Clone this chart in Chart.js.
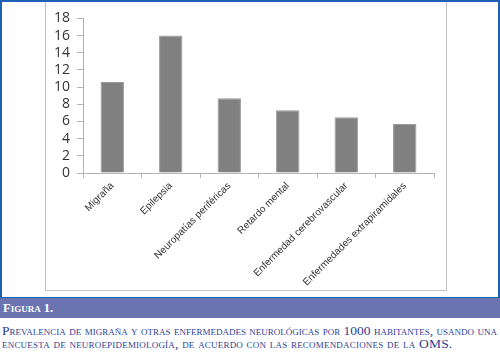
<!DOCTYPE html>
<html>
<head>
<meta charset="utf-8">
<script src="https://cdn.jsdelivr.net/npm/chart.js@4.4.1/dist/chart.umd.min.js"></script>
<style>
  html, body { margin: 0; padding: 0; background: #fff; }
  body { width: 500px; height: 354px; position: relative; overflow: hidden; }
  #frame { position: absolute; left: 0; top: 0; width: 496px; height: 295px; border: 2px solid #1d5fb0; }
  #box { position: absolute; left: 45px; top: 2px; width: 400px; height: 288px; border: 1px solid #c4c4c4; border-top: none; }
  #wrap { position: absolute; left: 46px; top: 3px; width: 399px; height: 288px; }
  #band { position: absolute; left: 0; top: 298px; width: 500px; height: 20px; background: #6a74b0;
          color: #fff; font: bold 12.5px "Liberation Serif", serif; font-variant: small-caps; line-height: 20px; padding-left: 3px; box-sizing: border-box; }
  .cap { position: absolute; left: 2px; width: 495px; color: #2e3f95; font: 13.5px "Liberation Serif", serif; font-variant: small-caps; white-space: nowrap; }
  #l1 { top: 323px; text-align: justify; text-align-last: justify; }
  #l2 { top: 336px; letter-spacing: 0.2px; }
</style>
</head>
<body>
<div id="frame"></div>
<div id="box"></div>
<div id="wrap"><canvas id="chart"></canvas></div>
<div id="band">Figura 1.</div>
<div class="cap" id="l1">Prevalencia de migraña y otras enfermedades neurológicas por 1000 habitantes, usando una</div>
<div class="cap" id="l2">encuesta de neuroepidemiología, de acuerdo con las recomendaciones de la OMS.</div>
<script>
const categories = ["Migraña", "Epilepsia", "Neuropatías periféricas", "Retardo mental",
    "Enfermedad cerebrovascular", "Enfermedades extrapiramidales"];
const prevalence = [10.6, 16, 8.7, 7.3, 6.5, 5.7];
const yMax = 18;
const yStep = 2;

const axisColor = "#b3b3b3";

new Chart(document.getElementById("chart"), {
    type: "bar",
    data: {
        labels: categories,
        datasets: [{
            data: prevalence,
            backgroundColor: "#808080",
            borderColor: "#9a9a9a",
            borderWidth: 1,
            categoryPercentage: 1,
            barPercentage: 0.4
        }]
    },
    options: {
        responsive: true,
        maintainAspectRatio: false,
        animation: false,
        layout: { padding: { top: 12, right: 11, left: 0, bottom: 0 } },
        plugins: { legend: { display: false }, tooltip: { enabled: false } },
        scales: {
            x: {
                grid: { drawOnChartArea: false, color: axisColor, tickLength: 5 },
                border: { color: axisColor },
                ticks: {
                    autoSkip: false, minRotation: 45, maxRotation: 45, padding: 2,
                    color: "#333", font: { family: "Liberation Sans", size: 10 }
                },
                afterFit: s => { s.height = 118; }
            },
            y: {
                min: 0, max: yMax,
                grid: { drawOnChartArea: false, color: axisColor, tickLength: 6 },
                border: { color: axisColor },
                ticks: {
                    stepSize: yStep, autoSkip: false, padding: 7, color: "#333",
                    font: { family: "Open Sans", size: 14 }
                },
                afterFit: s => { s.width = 37; }
            }
        }
    }
});
</script>
</body>
</html>
